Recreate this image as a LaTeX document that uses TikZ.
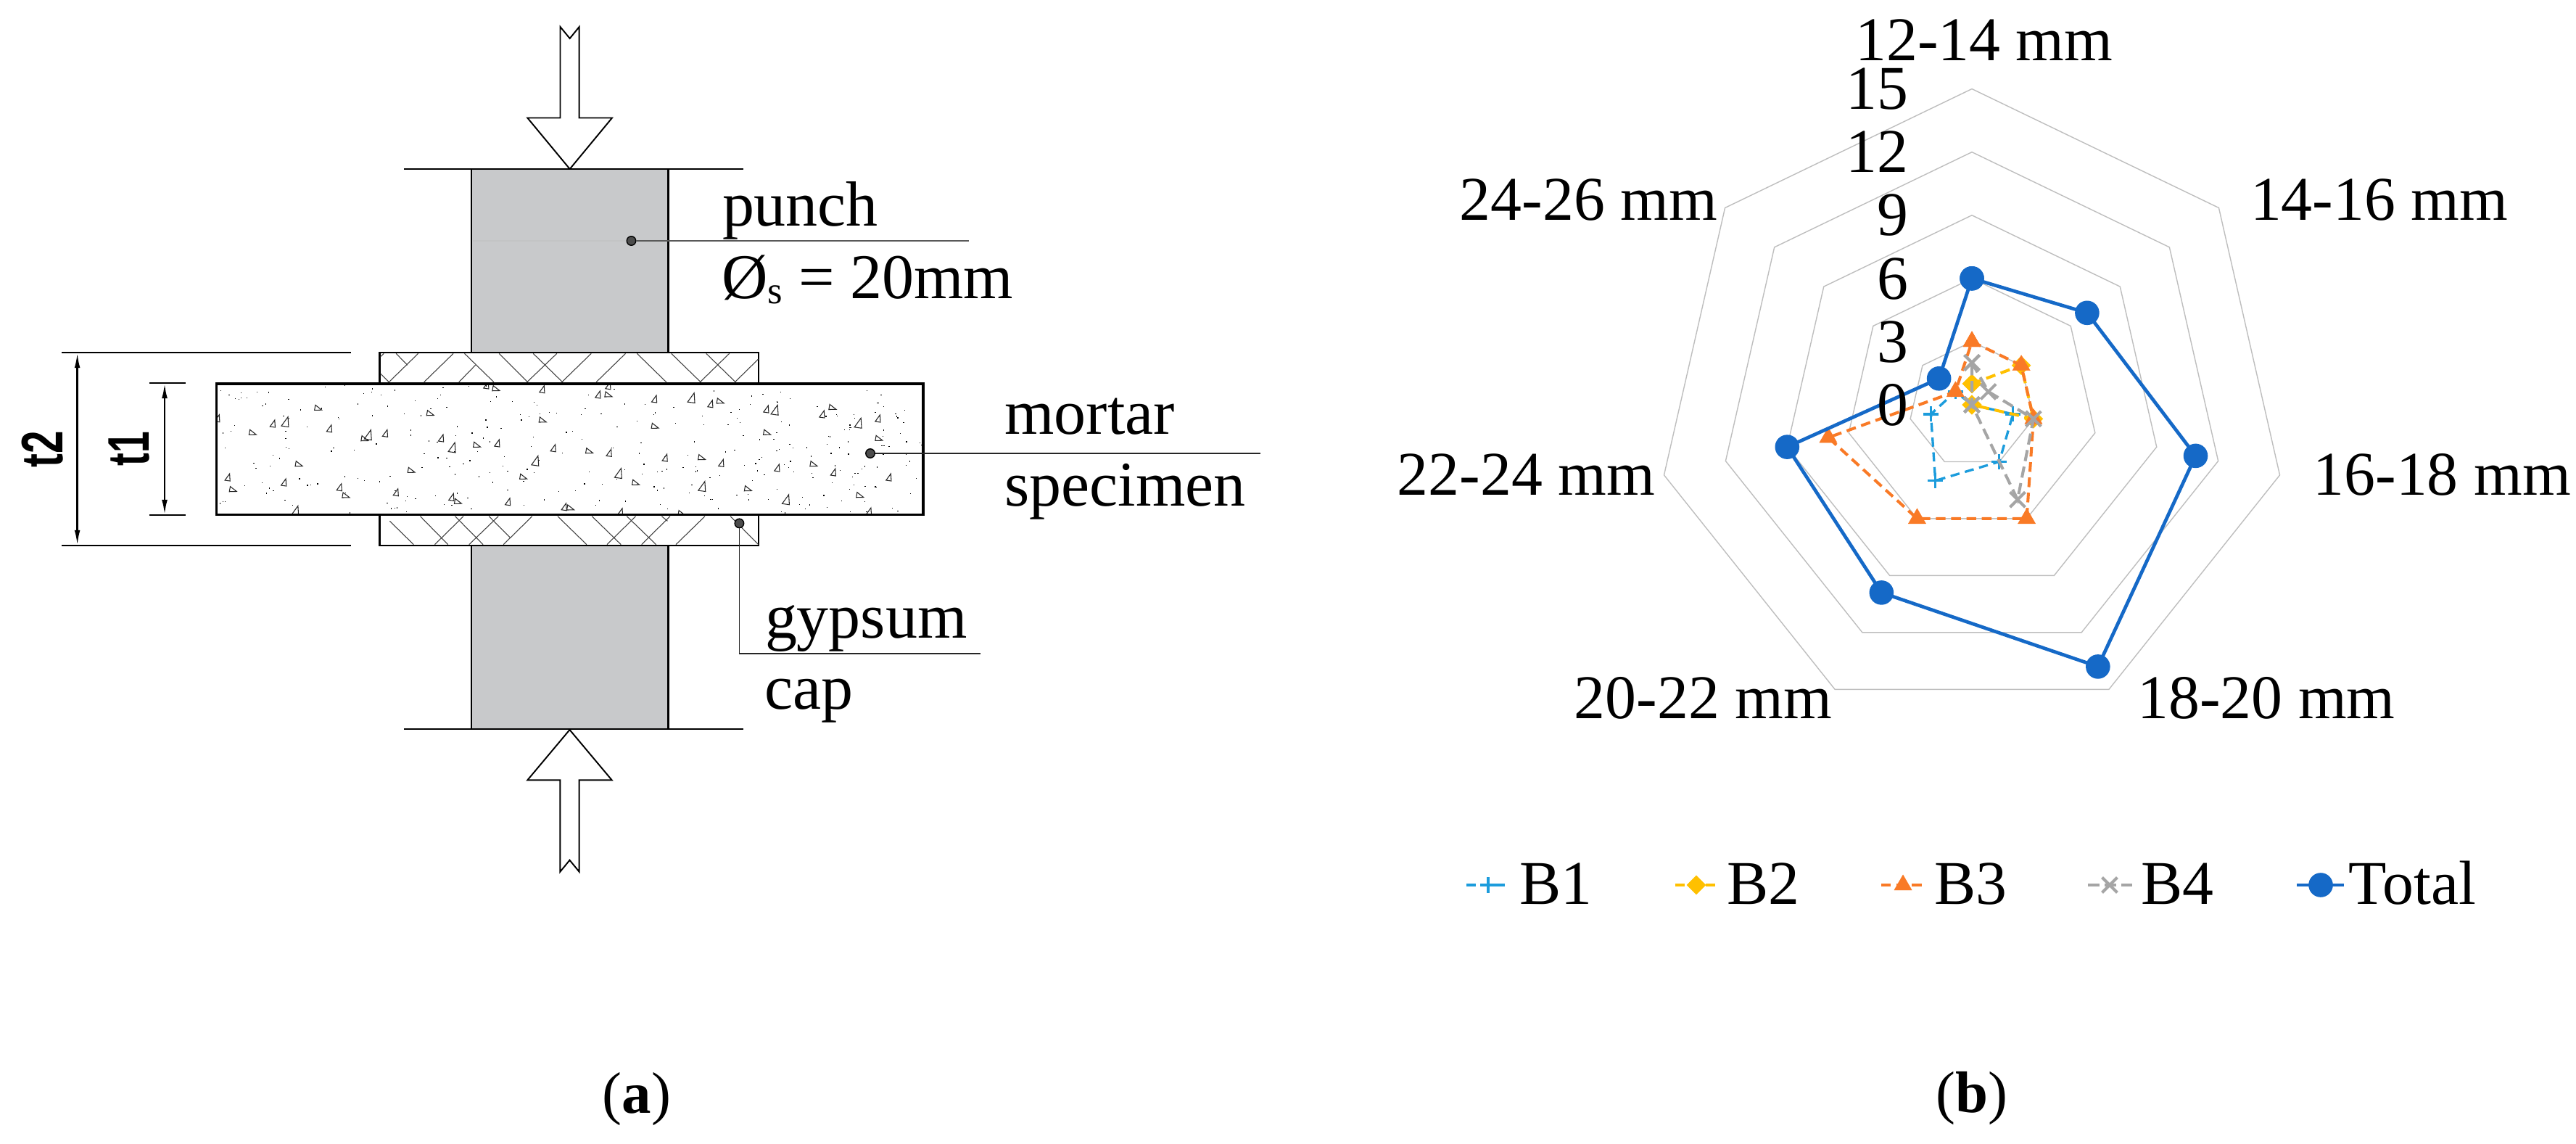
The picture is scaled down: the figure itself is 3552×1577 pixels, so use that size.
\documentclass[tikz,border=0pt]{standalone}
\usepackage{fontspec}
\setmainfont{Liberation Serif}
\newfontfamily\arialf{Liberation Sans}
\usetikzlibrary{arrows.meta,plotmarks}
\definecolor{punchgray}{HTML}{C8C9CB}
\definecolor{gridgray}{HTML}{BEBEBE}
\definecolor{cBone}{HTML}{1C9CDC}
\definecolor{cBtwo}{HTML}{FFC000}
\definecolor{cBthree}{HTML}{F97A26}
\definecolor{cBfour}{HTML}{A5A5A5}
\definecolor{cTotal}{HTML}{1569C7}
\newcommand{\txt}{\fontsize{25}{30}\selectfont}
\newcommand{\chartxt}{\fontsize{24.4}{30}\selectfont}
\newcommand{\tri}[3]{\draw[aggr,shift={(#1,#2)},rotate=#3] (-3.6,4.6) -- (3.6,4.6) -- (1.6,-5.2) -- cycle;}
\newcommand{\trib}[3]{\draw[aggr,shift={(#1,#2)},rotate=#3] (-5,6.6) -- (5,6.6) -- (2.2,-7) -- cycle;}
\tikzset{
  lab/.style={inner sep=0pt,outer sep=0pt,font=\txt},
  clab/.style={inner sep=0pt,outer sep=0pt,font=\chartxt},
  punchbox/.style={draw=black,fill=punchgray,line width=.75pt},
  capbox/.style={draw=black,fill=white,line width=.7pt},
  specbox/.style={draw=black,line width=1.1pt},
  hatchline/.style={line width=.3pt,draw=black!75},
  aggr/.style={line width=.3pt,draw=black!85},
  plate/.style={line width=.75pt,draw=black},
  loadarrow/.style={line width=.55pt,draw=black,fill=white,line join=miter},
  dim/.style={line width=.7pt,draw=black,{Latex[length=6pt,width=2.2pt]}-{Latex[length=6pt,width=2.2pt]}},
  tick/.style={line width=.65pt,draw=black},
  leader/.style={line width=.4pt,draw=black!85},
  pin/.style={circle,draw=black,fill=black!70,line width=.4pt,minimum size=12.5*0.2845pt,inner sep=0pt},
  gridline/.style={line width=.4pt,draw=gridgray,line join=miter},
  serBone/.style={line width=.95pt,draw=cBone,dash pattern=on 3.6pt off 2.2pt,mark=+,mark size=3pt,mark options={solid,draw=cBone,line width=.95pt}},
  serBtwo/.style={line width=1.15pt,draw=cBtwo,dash pattern=on 3.8pt off 2.2pt,mark=square*,mark size=2.1pt,mark options={solid,rotate=45,draw=cBtwo,fill=cBtwo}},
  serBthree/.style={line width=1.15pt,draw=cBthree,dash pattern=on 3.8pt off 2.2pt,mark=triangle*,mark size=4pt,mark options={solid,draw=cBthree,fill=cBthree,line width=.1pt}},
  serBfour/.style={line width=1.15pt,draw=cBfour,dash pattern=on 4.4pt off 2.2pt,mark=x,mark size=4.2pt,mark options={solid,draw=cBfour,line width=1.15pt}},
  serTotal/.style={line width=1.35pt,draw=cTotal,mark=*,mark size=4.1pt,mark options={solid,draw=cTotal,fill=cTotal}},
}
\begin{document}
\begin{tikzpicture}[x=0.01cm,y=-0.01cm]
\useasboundingbox (0,0) rectangle (3552,1577);
% ---------- panel a ----------
\draw[loadarrow] (772.5,37) -- (785.7,53) -- (798.7,37) -- (798.7,162.5) -- (844,162.5) -- (785.7,233) -- (727.3,162.5) -- (772.5,162.5) -- cycle;
\draw[loadarrow] (772.3,1201.8) -- (785.5,1185.7) -- (798.7,1201.8) -- (798.7,1075.4) -- (843.7,1075.4) -- (785.5,1006) -- (727.3,1075.4) -- (772.3,1075.4) -- cycle;
\draw[punchbox] (650,233) rectangle (921.6,486.4);
\draw[punchbox] (650,752) rectangle (921.6,1005);
\draw[line width=.8pt,draw=black!10!punchgray!80!white] (652,332) -- (866,332);
\draw[plate] (557,233) -- (1025,233);
\draw[plate] (557,1005) -- (1025,1005);
% gypsum caps
\draw[capbox] (523.5,486) rectangle (1046,528.5);
\begin{scope}[shift={(510,480)},xscale=.3508,yscale=.3333]
  \foreach \a/\b/\c/\d in {75/140/190/22,213/140/328/22,350/140/415/70,618/140/735/22,755/140/870/22,890/140/1005/22,1298/140/1413/22,1435/140/1527/45,42/35/55/22,
    42/105/75/140,103/22/148/70,372/22/487/140,508/22/620/140,642/22/757/140,1050/22/1165/140,1185/22/1300/140,1322/22/1437/140}
    \draw[hatchline] (\a,\b) -- (\c,\d);
\end{scope}
\draw[capbox] (523.5,709.5) rectangle (1046,752);
\begin{scope}[shift={(510,700)},xscale=.3508,yscale=.3333]
  \foreach \a/\b/\c/\d in {78/55/172/152,198/35/307/152,335/35/445/152,468/35/553/125,738/35/852/152,873/35/987/152,1010/35/1125/152,1147/35/1170/55,1417/35/1527/152,
    255/152/368/35,390/152/505/35,525/152/638/35,932/152/1045/35,1068/152/1180/35,1203/152/1317/35}
    \draw[hatchline] (\a,\b) -- (\c,\d);
\end{scope}
% mortar specimen
\fill[white] (298.5,529) rectangle (1273,709.5);
\begin{scope}
  \clip (298.5,529) rectangle (1273,709.5);
  \pgfmathsetseed{4711}
  \foreach \i in {1,...,320}{
    \pgfmathsetmacro{\dx}{300+971*rnd}
    \pgfmathsetmacro{\dy}{531+177*rnd}
    \fill[black] (\dx,\dy) rectangle ({\dx+1.3},{\dy+1.3});
  }
  \foreach \x/\y in {376.5/584,314.3/658,391.8/665,454.6/590.7,531.6/597.3,468.4/671.7,546.4/678.7,608.7/604,623/685.3,671/531,748/536.7,839/531.7,825/544,902.7/550,980/556.7,686/611,763.3/617.7,840.3/624.3,917.3/631,995/638.3,700.7/691.7,778.3/698.7,855.7/705.7,1057/564,1134/571,1211/577,1072/645,1149.5/651,1226/658,1198.6/705,300/576.7}
    \tri{\x}{\y}{-8}{};
  \foreach \x/\y in {393.9/581.3,508.2/599.3,624/616.7,954/548.3,738.7/635,853.3/652.3,968.7/670.3,407.7/704,1069/565,1184/583,1084.4/688.5}
    \trib{\x}{\y}{-8}{};
  \foreach \x/\y in {348.5/596.7,438.8/562.7,503/605,593.4/570,412.2/640,321.4/675,477/683.3,567.3/648.7,631.6/691.7,684/536,839/544.3,993.3/553.3,748.3/579.3,903.3/587.7,657.7/613.7,812.7/622,967.7/631,721.7/657.7,876.7/665.7,786.7/700.3,1148/561.8,1212/604.7,1057.7/596.6,1122/640,1031.5/674,1185.8/683,940/708}
    \tri{\x}{\y}{-100}{};
\end{scope}
\draw[specbox] (298.5,529) rectangle (1273,709.5);
% dimensions
\coordinate (ttop) at (106.6,486); \coordinate (tbot) at (106.6,752);
\coordinate (otop) at (227,528); \coordinate (obot) at (227,710);
\draw[tick] (84.7,486) -- (483.7,486);
\draw[tick] (84.7,752) -- (483.7,752);
\draw[tick] (205.6,528) -- (256,528);
\draw[tick] (205.6,710) -- (256,710);
\draw[dim] (ttop) -- (tbot);
\draw[dim] (otop) -- (obot);
\node[inner sep=0pt,rotate=90,anchor=base] (ltwo) at (86,619) {\arialf\bfseries\fontsize{23}{28}\selectfont\scalebox{.70}[1]{t2}};
\node[inner sep=0pt,rotate=90,anchor=base] (lone) at (205,619) {\arialf\bfseries\fontsize{23}{28}\selectfont\scalebox{.66}[1]{t1}};
% leaders and pins
\node[pin] (ppunch) at (870.5,332) {};
\node[pin] (pmortar) at (1200,625) {};
\node[pin] (pcap) at (1019.4,721.4) {};
\coordinate (epunch) at (1336,332);
\coordinate (emortar) at (1738,625);
\coordinate (kcap) at (1019.4,901);
\coordinate (ecap) at (1352,901);
\draw[leader,draw=black!65,line width=.5pt] (ppunch) -- (epunch);
\draw[leader] (pmortar) -- (emortar);
\draw[leader] (pcap) -- (kcap) -- (ecap);
\node[lab,anchor=base west] (tpunch) at (996,311.7) {punch};
\node[lab,anchor=base west] (tdia) at (995,411.7) {Ø\raisebox{-1.9pt}{\fontsize{15}{18}\selectfont s} = 20mm};
\node[lab,anchor=base west] (tmortar) at (1385.5,598.5) {mortar};
\node[lab,anchor=base west] (tspec) at (1385.5,698) {specimen};
\node[lab,anchor=base west] (tgyp) at (1055,879.8) {gypsum};
\node[lab,anchor=base west] (tcap) at (1054,977.8) {cap};
\node[inner sep=0pt,anchor=base,font=\fontsize{23}{28}\selectfont] (capa) at (878,1534) {(\textbf{a})};
% ---------- panel b ----------
\def\u{29.03}
\def\aA{-90}\def\aB{-38.571}\def\aC{12.857}\def\aD{64.286}\def\aE{115.714}\def\aF{167.143}\def\aG{218.571}
\begin{scope}[shift={(2719,558)}]
  \foreach \v in {3,6,9,12,15}
    \draw[gridline] (\aA:\v*\u) -- (\aB:\v*\u) -- (\aC:\v*\u) -- (\aD:\v*\u) -- (\aE:\v*\u) -- (\aF:\v*\u) -- (\aG:\v*\u) -- cycle;
  \draw[serBone] plot coordinates {(\aA:0*\u) (\aB:0*\u) (\aC:2*\u) (\aD:3*\u) (\aE:4*\u) (\aF:2*\u) (\aG:1*\u) (\aA:0*\u)};
  \draw[serBtwo] plot coordinates {(\aA:1*\u) (\aB:3*\u) (\aC:3*\u) (\aD:0*\u) (\aE:0*\u) (\aF:0*\u) (\aG:0*\u) (\aA:1*\u)};
  \draw[serBthree] plot coordinates {(\aA:3*\u) (\aB:3*\u) (\aC:3*\u) (\aD:6*\u) (\aE:6*\u) (\aF:7*\u) (\aG:1*\u) (\aA:3*\u)};
  \draw[serBfour] plot coordinates {(\aA:2*\u) (\aB:1*\u) (\aC:3*\u) (\aD:5*\u) (\aE:0*\u) (\aF:0*\u) (\aG:0*\u) (\aA:2*\u)};
  \draw[serTotal] plot coordinates {(\aA:6*\u) (\aB:7*\u) (\aC:10.9*\u) (\aD:13.8*\u) (\aE:9.9*\u) (\aF:9*\u) (\aG:2*\u) (\aA:6*\u)};
\end{scope}
\foreach \n/\yy in {0/587,3/500,6/412.6,9/325,12/238,15/151}
  \node[clab,anchor=base east] (tick\n) at (2631,\yy) {\n};
\node[clab,anchor=base] (lA) at (2735.8,83.5) {12-14 mm};
\node[clab,anchor=base west] (lB) at (3103,303.6) {14-16 mm};
\node[clab,anchor=base west] (lC) at (3189.6,683) {16-18 mm};
\node[clab,anchor=base west] (lD) at (2947.4,990.8) {18-20 mm};
\node[clab,anchor=base east] (lE) at (2525.9,990.8) {20-22 mm};
\node[clab,anchor=base east] (lF) at (2282,683) {22-24 mm};
\node[clab,anchor=base east] (lG) at (2368,303.6) {24-26 mm};
% legend
\draw[serBone] plot[mark indices={2}] coordinates {(2022,1220) (2052,1220) (2082,1220)};
\draw[serBtwo] plot[mark indices={2}] coordinates {(2309.5,1220) (2339,1220) (2368,1220)};
\draw[serBthree] plot[mark indices={2}] coordinates {(2594,1220) (2624,1220) (2654,1220)};
\draw[serBfour] plot[mark indices={2}] coordinates {(2879,1220) (2909,1220) (2940,1220)};
\draw[serTotal] plot[mark indices={2}] coordinates {(3167,1220) (3200,1220) (3232,1220)};
\node[clab,anchor=base west] (kA) at (2095,1246.4) {B1};
\node[clab,anchor=base west] (kB) at (2381,1246.4) {B2};
\node[clab,anchor=base west] (kC) at (2667,1246.4) {B3};
\node[clab,anchor=base west] (kD) at (2952.6,1246.4) {B4};
\node[clab,anchor=base west] (kE) at (3238.8,1246.4) {Total};
\node[inner sep=0pt,anchor=base,font=\fontsize{23}{28}\selectfont] (capb) at (2719,1533) {(\textbf{b})};
\end{tikzpicture}
\end{document}
